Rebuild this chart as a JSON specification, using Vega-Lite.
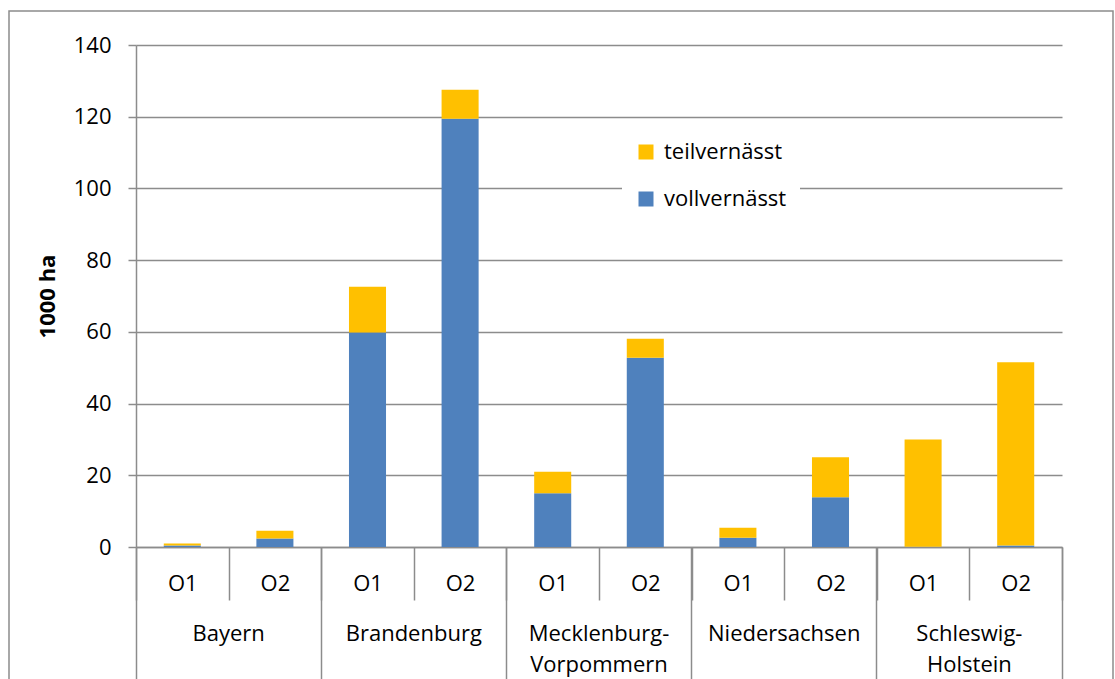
{
  "$schema": "https://vega.github.io/schema/vega-lite/v6.json",
  "width": 1104,
  "height": 670,
  "autosize": {"type": "none"},
  "padding": {"left": 9, "top": 11, "right": 2, "bottom": 0},
  "background": "white",
  "config": {
    "view": {"stroke": "#8c8c8c", "strokeWidth": 1.5},
    "font": "Open Sans",
    "axis": {"labelColor": "black", "titleColor": "black", "labelFont": "Open Sans", "titleFont": "Open Sans"},
    "legend": {"labelFont": "Open Sans"}
  },
  "data": {
    "values": [
      {"cat": "Bayern|O1", "state": "Bayern", "sub": "O1", "type": "vollvernässt", "value": 0.4},
      {"cat": "Bayern|O1", "state": "Bayern", "sub": "O1", "type": "teilvernässt", "value": 0.6},
      {"cat": "Bayern|O2", "state": "Bayern", "sub": "O2", "type": "vollvernässt", "value": 2.4},
      {"cat": "Bayern|O2", "state": "Bayern", "sub": "O2", "type": "teilvernässt", "value": 2.1},
      {"cat": "Brandenburg|O1", "state": "Brandenburg", "sub": "O1", "type": "vollvernässt", "value": 59.8},
      {"cat": "Brandenburg|O1", "state": "Brandenburg", "sub": "O1", "type": "teilvernässt", "value": 12.8},
      {"cat": "Brandenburg|O2", "state": "Brandenburg", "sub": "O2", "type": "vollvernässt", "value": 119.4},
      {"cat": "Brandenburg|O2", "state": "Brandenburg", "sub": "O2", "type": "teilvernässt", "value": 8.1},
      {"cat": "Mecklenburg-Vorpommern|O1", "state": "Mecklenburg-Vorpommern", "sub": "O1", "type": "vollvernässt", "value": 15.0},
      {"cat": "Mecklenburg-Vorpommern|O1", "state": "Mecklenburg-Vorpommern", "sub": "O1", "type": "teilvernässt", "value": 6.0},
      {"cat": "Mecklenburg-Vorpommern|O2", "state": "Mecklenburg-Vorpommern", "sub": "O2", "type": "vollvernässt", "value": 52.8},
      {"cat": "Mecklenburg-Vorpommern|O2", "state": "Mecklenburg-Vorpommern", "sub": "O2", "type": "teilvernässt", "value": 5.3},
      {"cat": "Niedersachsen|O1", "state": "Niedersachsen", "sub": "O1", "type": "vollvernässt", "value": 2.6},
      {"cat": "Niedersachsen|O1", "state": "Niedersachsen", "sub": "O1", "type": "teilvernässt", "value": 2.8},
      {"cat": "Niedersachsen|O2", "state": "Niedersachsen", "sub": "O2", "type": "vollvernässt", "value": 13.9},
      {"cat": "Niedersachsen|O2", "state": "Niedersachsen", "sub": "O2", "type": "teilvernässt", "value": 11.1},
      {"cat": "Schleswig-Holstein|O1", "state": "Schleswig-Holstein", "sub": "O1", "type": "vollvernässt", "value": 0.1},
      {"cat": "Schleswig-Holstein|O1", "state": "Schleswig-Holstein", "sub": "O1", "type": "teilvernässt", "value": 29.9},
      {"cat": "Schleswig-Holstein|O2", "state": "Schleswig-Holstein", "sub": "O2", "type": "vollvernässt", "value": 0.4},
      {"cat": "Schleswig-Holstein|O2", "state": "Schleswig-Holstein", "sub": "O2", "type": "teilvernässt", "value": 51.1}
    ]
  },
  "layer": [
    {
      "mark": {"type": "bar", "width": {"band": 0.4}},
      "encoding": {
        "x": {
          "field": "cat",
          "type": "nominal",
          "sort": null,
          "scale": {"paddingInner": 0, "paddingOuter": 0, "range": [127, 1053]},
          "axis": {
            "orient": "bottom",
            "offset": -134,
            "title": null,
            "tickBand": "extent",
            "tickSize": 53,
            "tickColor": "#8c8c8c",
            "tickWidth": 1.5,
            "domainColor": "#8c8c8c",
            "domainWidth": 1.5,
            "labelExpr": "split(datum.label, '|')[1]",
            "labelAngle": 0,
            "labelAlign": "center",
            "labelBaseline": "middle",
            "labelPadding": -17,
            "labelFontSize": 22,
            "labelOverlap": false,
            "labelFlush": false,
            "labelBound": false
          }
        },
        "y": {
          "field": "value",
          "type": "quantitative",
          "stack": "zero",
          "scale": {"domain": [0, 140], "nice": false, "range": [536, 34]},
          "axis": {
            "offset": -127,
            "title": "1000 ha",
            "titleFontSize": 22,
            "titleFontWeight": "bold",
            "titleAngle": -90,
            "titleX": -89,
            "titleY": 285,
            "titleAlign": "center",
            "titleBaseline": "middle",
            "values": [0, 20, 40, 60, 80, 100, 120, 140],
            "tickSize": 8,
            "tickColor": "#8c8c8c",
            "tickWidth": 1.5,
            "labelPadding": 17,
            "labelFontSize": 22,
            "grid": true,
            "gridColor": "#8c8c8c",
            "gridWidth": 1.5,
            "domainColor": "#8c8c8c",
            "domainWidth": 1.5
          }
        },
        "color": {
          "field": "type",
          "type": "nominal",
          "scale": {"domain": ["teilvernässt", "vollvernässt"], "range": ["#FFC000", "#4F81BD"]},
          "legend": {
            "title": null,
            "orient": "none",
            "legendX": 613,
            "legendY": 117,
            "symbolType": "square",
            "symbolSize": 225,
            "symbolStrokeWidth": 0,
            "labelFontSize": 22,
            "labelColor": "black",
            "labelOffset": 7,
            "rowPadding": 25,
            "padding": 13,
            "fillColor": "white"
          }
        },
        "order": {"field": "type", "sort": "descending"}
      }
    },
    {
      "mark": {"type": "point", "opacity": 0},
      "encoding": {
        "x": {
          "field": "cat",
          "type": "nominal",
          "sort": null,
          "axis": {
            "orient": "bottom",
            "offset": -134,
            "title": null,
            "values": ["Bayern|O1", "Brandenburg|O1", "Mecklenburg-Vorpommern|O1", "Niedersachsen|O1", "Schleswig-Holstein|O1"],
            "bandPosition": 0,
            "tickExtra": false,
            "tickSize": 140,
            "tickColor": "#8c8c8c",
            "tickWidth": 1.5,
            "domain": false,
            "labelOffset": 46.3,
            "labelPadding": -64,
            "labelBaseline": "top",
            "labelLineHeight": 31,
            "labelAngle": 0,
            "labelAlign": "center",
            "labelFontSize": 22,
            "labelOverlap": false,
            "labelFlush": false,
            "labelBound": false,
            "labelExpr": "datum.label == 'Mecklenburg-Vorpommern|O1' ? ['Mecklenburg-', 'Vorpommern'] : datum.label == 'Schleswig-Holstein|O1' ? ['Schleswig-', 'Holstein'] : split(datum.label, '|')[0]"
          }
        }
      }
    },
    {
      "mark": {"type": "point", "opacity": 0},
      "encoding": {
        "x": {
          "field": "cat",
          "type": "nominal",
          "sort": null,
          "axis": {
            "orient": "bottom",
            "offset": -134,
            "title": null,
            "values": ["Schleswig-Holstein|O2"],
            "bandPosition": 1,
            "tickExtra": false,
            "tickSize": 140,
            "tickColor": "#8c8c8c",
            "tickWidth": 1.5,
            "domain": false,
            "labels": false
          }
        }
      }
    }
  ],
  "resolve": {"axis": {"x": "independent"}}
}
